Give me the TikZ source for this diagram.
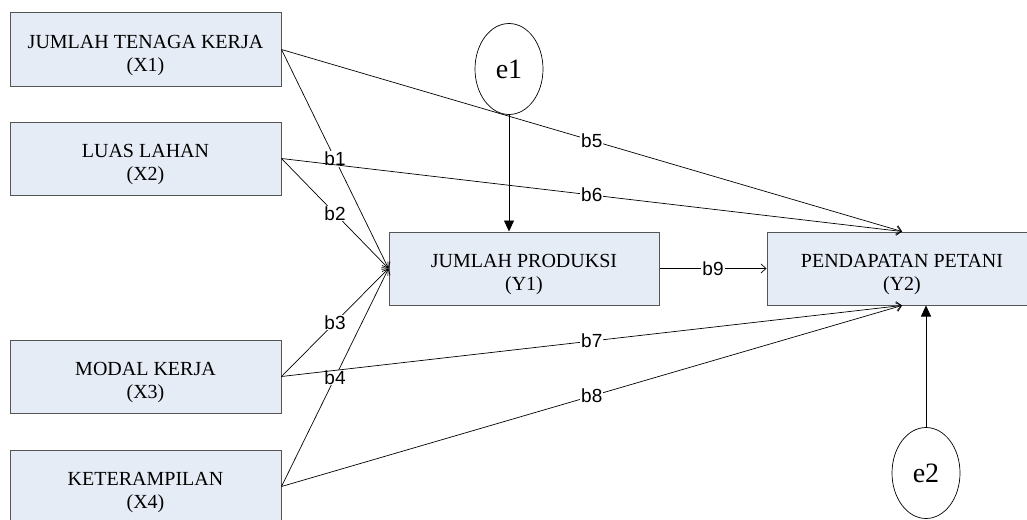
\documentclass[tikz,border=0pt]{standalone}
\usepackage{fontspec}
\setmainfont{Liberation Serif}
\newfontfamily\lblfont{Liberation Sans}
\usetikzlibrary{arrows.meta,shapes.geometric}
\definecolor{boxfill}{HTML}{E6ECF6}
\definecolor{boxdraw}{HTML}{555555}
\newcommand{\twolines}[2]{\rule{0pt}{26pt}#1\\#2}
\begin{document}
\begin{tikzpicture}[x=1pt,y=-1pt,
  var/.style={draw=boxdraw, line width=1pt, fill=boxfill, minimum width=271pt, minimum height=73pt,
    inner sep=0pt, align=center, font=\fontsize{20}{23}\selectfont},
  err/.style={draw=black, line width=0.7pt, ellipse, minimum width=68pt, minimum height=91pt, inner sep=0pt,
    font=\fontsize{28}{30}\selectfont},
  path/.style={draw=black, line width=0.7pt, -{Straight Barb[length=5pt,width=9pt]}},
  epath/.style={draw=black, line width=0.7pt, -{Triangle[length=11pt,width=10pt]}},
  lbl/.style={fill=white, inner sep=1pt, font=\lblfont\fontsize{19}{19}\selectfont}
]
\useasboundingbox (0,0) rectangle (1027,519);
\begin{scope}
\clip (0,0) rectangle (1027,519);
\node[var] (X1) at (145.5,49.5) {\twolines{JUMLAH TENAGA KERJA}{(X1)}};
\node[var] (X2) at (145.5,158.5) {\twolines{LUAS LAHAN}{(X2)}};
\node[var] (X3) at (145.5,376.5) {\twolines{MODAL KERJA}{(X3)}};
\node[var] (X4) at (145.5,486.5) {\twolines{KETERAMPILAN}{(X4)}};
\node[var, minimum width=270pt] (Y1) at (524,268.5) {\twolines{JUMLAH PRODUKSI}{(Y1)}};
\node[var, minimum width=270pt] (Y2) at (902,268.5) {\twolines{PENDAPATAN PETANI}{(Y2)}};
\node[err] (e1) at (509,69) {e1};
\node[err] (e2) at (926,473) {e2};

\draw[path] (X1.east) -- node[lbl]{b1} (Y1.west);
\draw[path] (X2.east) -- node[lbl]{b2} (Y1.west);
\draw[path] (X3.east) -- node[lbl]{b3} (Y1.west);
\draw[path] (X4.east) -- node[lbl]{b4} (Y1.west);
\draw[path] (X1.east) -- node[lbl]{b5} (Y2.north);
\draw[path] (X2.east) -- node[lbl]{b6} (Y2.north);
\draw[path] (X3.east) -- node[lbl]{b7} (Y2.south);
\draw[path] (X4.east) -- node[lbl]{b8} (Y2.south);
\draw[path] (Y1.east) -- node[lbl]{b9} (Y2.west);
\draw[epath] (e1.south) -- (Y1.north -| e1.south);
\draw[epath] (e2.north) -- (Y2.south -| e2.north);
\end{scope}
\end{tikzpicture}
\end{document}
